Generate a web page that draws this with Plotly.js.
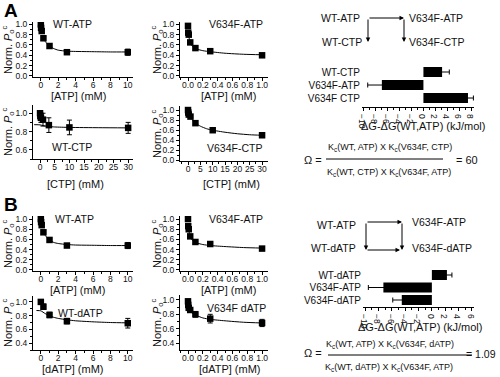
<!DOCTYPE html>
<html><head><meta charset="utf-8">
<script src="https://cdn.plot.ly/plotly-3.0.1.min.js"></script>
<style>html,body{margin:0;padding:0;background:#fff;overflow:hidden}#chart{width:500px;height:377px}</style>
</head><body><div id="chart"></div>
<script>
// ---------- DATA ----------
// Panel A, WT-ATP
const aWtAtpX   = [0, 0.03, 0.1, 0.3, 1, 3, 10];
const aWtAtpY   = [1.0, 0.93, 0.87, 0.73, 0.58, 0.46, 0.46];
const aWtAtpErr = [0.02, 0.03, 0.03, 0.03, 0.03, 0.03, 0.06];
const aWtAtpFitX = [0.25, 0.5, 1, 1.5, 2, 3, 4, 6, 8, 10];
const aWtAtpFitY = [0.76, 0.67, 0.58, 0.53, 0.5, 0.48, 0.475, 0.47, 0.465, 0.465];
// Panel A, V634F-ATP
const aVAtpX   = [0, 0.003, 0.01, 0.03, 0.1, 0.3, 1.0];
const aVAtpY   = [0.97, 0.84, 0.8, 0.65, 0.54, 0.48, 0.4];
const aVAtpErr = [0.02, 0.03, 0.03, 0.03, 0.03, 0.03, 0.03];
const aVAtpFitX = [0.005, 0.01, 0.02, 0.03, 0.05, 0.1, 0.2, 0.3, 0.5, 0.75, 1.0];
const aVAtpFitY = [0.85, 0.78, 0.7, 0.65, 0.59, 0.53, 0.49, 0.47, 0.44, 0.42, 0.41];
// Panel A, WT-CTP
const aWtCtpX   = [0, 0.1, 0.3, 1, 3, 10, 30];
const aWtCtpY   = [1.0, 0.97, 0.95, 0.93, 0.87, 0.845, 0.84];
const aWtCtpErr = [0.03, 0.04, 0.05, 0.07, 0.08, 0.08, 0.06];
const aWtCtpFitX = [-2, 0, 1, 3, 5, 10, 20, 30];
const aWtCtpFitY = [0.875, 0.873, 0.865, 0.855, 0.85, 0.845, 0.842, 0.84];
// Panel A, V634F-CTP
const aVCtpX   = [0, 0.1, 0.3, 1, 3, 10, 30];
const aVCtpY   = [1.0, 0.95, 0.91, 0.87, 0.74, 0.6, 0.5];
const aVCtpErr = [0.02, 0.02, 0.02, 0.03, 0.03, 0.03, 0.03];
const aVCtpFitX = [0, 0.5, 1, 2, 3, 5, 7.5, 10, 15, 20, 25, 30];
const aVCtpFitY = [1.0, 0.93, 0.87, 0.79, 0.74, 0.68, 0.63, 0.6, 0.56, 0.53, 0.51, 0.5];
// Panel B, WT-ATP
const bWtAtpX   = [0, 0.03, 0.1, 0.3, 1, 3, 10];
const bWtAtpY   = [1.0, 0.94, 0.88, 0.74, 0.59, 0.48, 0.48];
const bWtAtpErr = [0.02, 0.03, 0.03, 0.03, 0.03, 0.04, 0.06];
const bWtAtpFitX = [0.25, 0.5, 1, 1.5, 2, 3, 4, 6, 8, 10];
const bWtAtpFitY = [0.77, 0.68, 0.59, 0.54, 0.52, 0.5, 0.49, 0.485, 0.48, 0.48];
// Panel B, V634F-ATP
const bVAtpX   = [0, 0.003, 0.01, 0.03, 0.1, 0.3, 1.0];
const bVAtpY   = [1.0, 0.86, 0.8, 0.66, 0.55, 0.51, 0.42];
const bVAtpErr = [0.02, 0.03, 0.03, 0.03, 0.03, 0.03, 0.03];
const bVAtpFitX = [0.005, 0.01, 0.02, 0.03, 0.05, 0.1, 0.2, 0.3, 0.5, 0.75, 1.0];
const bVAtpFitY = [0.86, 0.79, 0.71, 0.66, 0.6, 0.54, 0.5, 0.48, 0.46, 0.44, 0.43];
// Panel B, WT-dATP
const bWtDatpX   = [0, 0.3, 1, 3, 10];
const bWtDatpY   = [1.0, 0.93, 0.81, 0.72, 0.69];
const bWtDatpErr = [0.02, 0.04, 0.04, 0.04, 0.07];
const bWtDatpFitX = [-0.5, 0, 0.5, 1, 1.5, 2, 3, 4, 6, 8, 10];
const bWtDatpFitY = [0.875, 0.87, 0.83, 0.8, 0.775, 0.76, 0.74, 0.725, 0.71, 0.7, 0.695];
// Panel B, V634F dATP
const bVDatpX   = [0, 0.003, 0.01, 0.03, 0.1, 0.3, 1.0];
const bVDatpY   = [0.98, 0.93, 0.89, 0.86, 0.8, 0.74, 0.68];
const bVDatpErr = [0.03, 0.03, 0.03, 0.03, 0.04, 0.06, 0.05];
const bVDatpFitX = [0, 0.01, 0.02, 0.05, 0.1, 0.2, 0.3, 0.5, 0.75, 1.0];
const bVDatpFitY = [0.96, 0.9, 0.86, 0.82, 0.79, 0.75, 0.73, 0.71, 0.69, 0.68];
// Bar charts (ΔG-ΔG(WT,ATP), kJ/mol)
const aBarCats = ['WT-CTP', 'V634F-ATP', 'V634F CTP'];
const aBarVals = [3.1, -6.9, 7.4];
const aBarErrs = [1.2, 2.35, 0.9];
const bBarCats = ['WT-dATP', 'V634F-ATP', 'V634F-dATP'];
const bBarVals = [2.25, -7.25, -4.5];
const bBarErrs = [0.75, 2.25, 1.35];

// ---------- LAYOUT HELPERS ----------
const W = 500, H = 377;
const FONT = "'Liberation Sans Narrow', 'Liberation Sans', Arial, sans-serif";
const px = x => x / W;
const py = y => 1 - y / H;

const panels = [
  {n:1, xd:[33,133], yd:[22,77],  xr:[-0.9,10.6],  yr:[-0.02,1.045], xdt:2,   xmin:1,    ydt:0.2, ymin:0.1, xf:'d',   x:aWtAtpX, y:aWtAtpY, e:aWtAtpErr, fx:aWtAtpFitX, fy:aWtAtpFitY},
  {n:2, xd:[180,268], yd:[22,77], xr:[-0.108,1.08], yr:[-0.02,1.045], xdt:0.2, xmin:0.1,  ydt:0.2, ymin:0.1, xf:'.1f', x:aVAtpX, y:aVAtpY, e:aVAtpErr, fx:aVAtpFitX, fy:aVAtpFitY},
  {n:3, xd:[33,133], yd:[105,159], xr:[-2.4,31.65], yr:[0.5,1.09],    xdt:5,   xmin:2.5,  ydt:0.2, ymin:0.1, xf:'d',   x:aWtCtpX, y:aWtCtpY, e:aWtCtpErr, fx:aWtCtpFitX, fy:aWtCtpFitY},
  {n:4, xd:[180,268], yd:[106,161], xr:[-3.25,32.4], yr:[-0.01,1.08], xdt:5,   xmin:2.5,  ydt:0.2, ymin:0.1, xf:'d',   x:aVCtpX, y:aVCtpY, e:aVCtpErr, fx:aVCtpFitX, fy:aVCtpFitY},
  {n:5, xd:[33,133], yd:[216,271], xr:[-0.9,10.6],  yr:[-0.02,1.06],  xdt:2,   xmin:1,    ydt:0.2, ymin:0.1, xf:'d',   x:bWtAtpX, y:bWtAtpY, e:bWtAtpErr, fx:bWtAtpFitX, fy:bWtAtpFitY},
  {n:6, xd:[180,268], yd:[216,271], xr:[-0.108,1.08], yr:[-0.02,1.06], xdt:0.2, xmin:0.1, ydt:0.2, ymin:0.1, xf:'.1f', x:bVAtpX, y:bVAtpY, e:bVAtpErr, fx:bVAtpFitX, fy:bVAtpFitY},
  {n:7, xd:[33,133], yd:[296,350], xr:[-0.9,10.6],  yr:[0.3,1.086],   xdt:2,   xmin:1,    ydt:0.2, ymin:0.1, xf:'d',   x:bWtDatpX, y:bWtDatpY, e:bWtDatpErr, fx:bWtDatpFitX, fy:bWtDatpFitY},
  {n:8, xd:[180,268], yd:[295,350], xr:[-0.108,1.08], yr:[0.305,1.068], xdt:0.2, xmin:0.1, ydt:0.2, ymin:0.1, xf:'.1f', x:bVDatpX, y:bVDatpY, e:bVDatpErr, fx:bVDatpFitX, fy:bVDatpFitY}
];

const tickFont = {family: FONT, size: 8.5, color: '#111'};
function axisBase() {
  return {showline:true, linecolor:'#000', linewidth:1, ticks:'outside', ticklen:3, tickwidth:1,
          tickcolor:'#000', showgrid:false, zeroline:false, tickfont:tickFont, fixedrange:true};
}

const traces = [];
const layout = {
  width: W, height: H, margin:{l:0,r:0,t:0,b:0}, showlegend:false,
  paper_bgcolor:'#fff', plot_bgcolor:'rgba(0,0,0,0)',
  font:{family: FONT, color:'#111'},
  annotations: [], shapes: []
};

panels.forEach(p => {
  const xs = p.n === 1 ? '' : p.n, xid = 'x' + xs, yid = 'y' + xs;
  layout['xaxis' + xs] = Object.assign(axisBase(), {
    domain:[px(p.xd[0]), px(p.xd[1])], range:p.xr, anchor:yid, dtick:p.xdt, tick0:0,
    tickformat:p.xf, ticklabelstandoff:-3,
    minor:{ticks:'outside', ticklen:2, dtick:p.xmin, tick0:0, tickcolor:'#000'}
  });
  layout['yaxis' + xs] = Object.assign(axisBase(), {
    domain:[py(p.yd[1]), py(p.yd[0])], range:p.yr, anchor:xid, dtick:p.ydt, tick0:0,
    tickformat:'.1f', minor:{ticks:'outside', ticklen:2, dtick:p.ymin, tick0:0, tickcolor:'#000'}
  });
  traces.push({type:'scatter', mode:'lines', x:p.fx, y:p.fy, xaxis:xid, yaxis:yid,
    line:{color:'#000', width:1, shape:'spline', smoothing:0.6}, hoverinfo:'skip'});
  traces.push({type:'scatter', mode:'markers', x:p.x, y:p.y, xaxis:xid, yaxis:yid,
    marker:{symbol:'square', size:6.5, color:'#000'},
    error_y:{type:'data', array:p.e, color:'#000', thickness:1, width:2.5}, hoverinfo:'skip'});
});

// Bar charts: labels at the left edge, a second (overlaid) axis draws the line at x = 0
const bars = [
  {n:9,  z:11, cats:aBarCats, vals:aBarVals, errs:aBarErrs, w:0.77, xd:[362,474], yd:[62,107],  xr:[-10.2,8.4], yr:[2.69,-0.77]},
  {n:10, z:12, cats:bBarCats, vals:bBarVals, errs:bBarErrs, w:0.8,  xd:[363,474], yd:[265,307], xr:[-10.3,6.3], yr:[2.56,-0.8]}
];
bars.forEach(b => {
  const xid = 'x' + b.n, yid = 'y' + b.n;
  const zeroPos = px(b.xd[0]) + (0 - b.xr[0]) / (b.xr[1] - b.xr[0]) * (px(b.xd[1]) - px(b.xd[0]));
  layout['xaxis' + b.n] = Object.assign(axisBase(), {
    domain:[px(b.xd[0]), px(b.xd[1])], range:b.xr, anchor:yid, dtick:2, tick0:0, tickformat:'d',
    ticklabelstandoff:-3,
    minor:{ticks:'outside', ticklen:2, dtick:1, tick0:0, tickcolor:'#000'}
  });
  layout['yaxis' + b.n] = Object.assign(axisBase(), {
    domain:[py(b.yd[1]), py(b.yd[0])], range:b.yr, type:'category', anchor:xid,
    showline:false, ticks:'', ticklabelstandoff:1,
    tickfont:{family: FONT, size: 10, color:'#111'}
  });
  layout['yaxis' + b.z] = Object.assign(axisBase(), {
    range:b.yr, overlaying:yid, anchor:'free', position:zeroPos, tickvals:[0,1,2],
    showticklabels:false
  });
  traces.push({type:'bar', orientation:'h', y:b.cats, x:b.vals, xaxis:xid, yaxis:yid, width:b.w,
    marker:{color:'#000', line:{width:0}},
    error_x:{type:'data', array:b.errs, color:'#000', thickness:1, width:2.5}, hoverinfo:'skip'});
});

// ---------- TEXT ----------
const ann = layout.annotations;
function txt(t, x, y, size, opts) {
  ann.push(Object.assign({text:t, x:px(x), y:py(y), xref:'paper', yref:'paper', showarrow:false,
    font:{family:FONT, size:size, color:'#111'}, xanchor:'center', yanchor:'middle'}, opts || {}));
}
txt('<b>A</b>', 1.5, 10, 19, {xanchor:'left', font:{family:"'Liberation Sans', Arial", size:19, color:'#000'}});
txt('<b>B</b>', 1.5, 204, 19, {xanchor:'left', font:{family:"'Liberation Sans', Arial", size:19, color:'#000'}});

// panel names
txt('WT-ATP', 72, 24, 10.5);
txt('V634F-ATP', 236, 24, 10.5);
txt('WT-CTP', 72, 147, 10.5);
txt('V634F-CTP', 234, 148, 10.5);
txt('WT-ATP', 74, 219, 10.5);
txt('V634F-ATP', 236, 219, 10.5);
txt('WT-dATP', 80, 313, 10.5);
txt('V634F dATP', 236, 308, 10.5);

// axis titles
const yTitle = 'Norm. <i>P</i><sub>o</sub><sup>c</sup>';
[[8,50],[157,50],[8,132],[157,134],[8,244],[157,244],[8,323],[157,323]].forEach(c =>
  txt(yTitle, c[0], c[1], 11, {textangle:-90}));
txt('[ATP] (mM)', 78, 96, 11);
txt('[ATP] (mM)', 228, 96, 11);
txt('[CTP] (mM)', 75, 184, 11);
txt('[CTP] (mM)', 231, 184, 11);
txt('[ATP] (mM)', 77, 290, 11);
txt('[ATP] (mM)', 228, 290, 11);
txt('[dATP] (mM)', 73, 369, 11);
txt('[dATP] (mM)', 230, 369, 11);

txt('ΔG-ΔG(WT,ATP) (kJ/mol)', 423, 126, 11);
txt('ΔG-ΔG(WT,ATP) (kJ/mol)', 420, 327, 11);

// thermodynamic cycle diagrams
txt('WT-ATP', 362, 18, 10.5, {xanchor:'right'});
txt('V634F-ATP', 407, 18, 10.5, {xanchor:'left'});
txt('WT-CTP', 364, 42, 10.5, {xanchor:'right'});
txt('V634F-CTP', 407, 42, 10.5, {xanchor:'left'});
txt('WT-ATP', 358, 225, 10.5, {xanchor:'right'});
txt('V634F-ATP', 410, 222, 10.5, {xanchor:'left'});
txt('WT-dATP', 358, 248, 10.5, {xanchor:'right'});
txt('V634F-dATP', 410, 248, 10.5, {xanchor:'left'});

function arrow(x1, y1, x2, y2) {
  ann.push({text:'', x:px(x2), y:py(y2), xref:'paper', yref:'paper', ax:x1-x2, ay:y1-y2,
    axref:'pixel', ayref:'pixel', showarrow:true, arrowhead:2, arrowsize:0.9, arrowwidth:1, arrowcolor:'#000', standoff:0});
}
// cycle A
arrow(368, 18, 404, 18);
arrow(368, 18, 368, 42);
arrow(404, 18, 404, 42);
// cycle B
arrow(366, 222, 402, 222);
arrow(366, 222, 366, 250);
arrow(402, 222, 402, 250);
arrow(366, 250, 400, 250);

// Omega equations
txt('Ω =', 313, 160, 11);
txt('K<sub>c</sub>(WT, ATP) X K<sub>c</sub>(V634F, CTP)', 390, 147, 9);
txt('K<sub>c</sub>(WT, CTP) X K<sub>c</sub>(V634F, ATP)', 389, 172, 9);
txt('= 60', 467, 160, 11);
layout.shapes.push({type:'line', xref:'paper', yref:'paper', x0:px(326), x1:px(443), y0:py(159), y1:py(159), line:{color:'#000', width:1}});

txt('Ω =', 313, 353, 11);
txt('K<sub>c</sub>(WT, ATP) X K<sub>c</sub>(V634F, dATP)', 390, 344, 9);
txt('K<sub>c</sub>(WT, dATP) X K<sub>c</sub>(V634F, ATP)', 389, 367, 9);
txt('= 1.09', 498, 354, 10.5, {xanchor:'right'});
layout.shapes.push({type:'line', xref:'paper', yref:'paper', x0:px(328), x1:px(472), y0:py(355), y1:py(355), line:{color:'#000', width:1}});

Plotly.newPlot('chart', traces, layout, {staticPlot:true, displayModeBar:false});
</script></body></html>
